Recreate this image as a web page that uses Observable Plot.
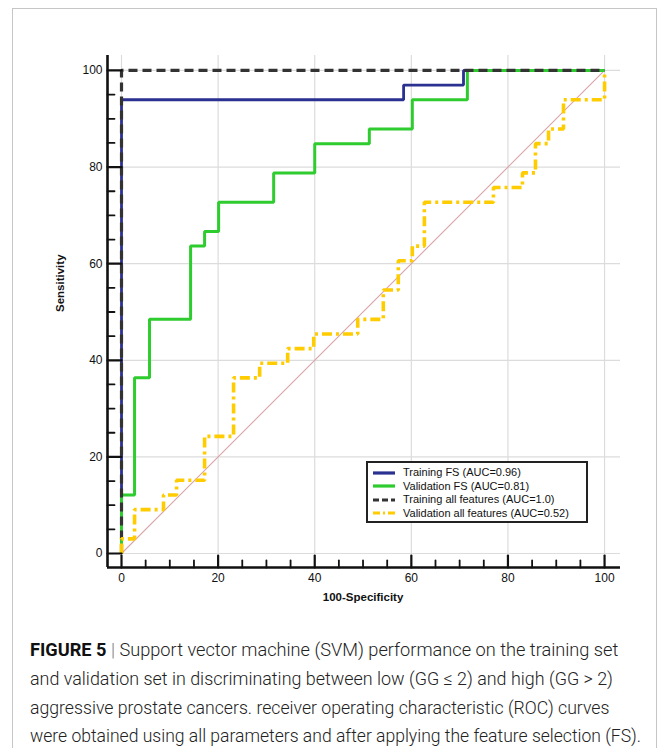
<!DOCTYPE html>
<html><head><meta charset="utf-8">
<script src="https://cdn.jsdelivr.net/npm/d3@7"></script>
<script src="https://cdn.jsdelivr.net/npm/@observablehq/plot@0.6"></script>
<style>
html,body{margin:0;padding:0;background:#fff;}
body{width:664px;height:748px;overflow:hidden;position:relative;font-family:"Liberation Sans",Arial,sans-serif;}
#frame{position:absolute;left:12px;top:8px;width:645px;height:800px;border:1.5px solid #c6c6c6;box-sizing:border-box;}
#chart{position:absolute;left:0;top:0;}
#legend{position:absolute;left:366px;top:461px;width:222px;height:62px;border:2px solid #222;background:#fff;box-sizing:border-box;padding:3px 0 0 5px;font-size:11px;color:#111;}
#legend .row{height:13.5px;line-height:13.5px;display:flex;align-items:center;white-space:nowrap;}
#legend svg{width:22px;height:6px;margin-right:8px;flex:none;}
#caption{position:absolute;left:30px;top:636px;font-family:Roboto,"Liberation Sans",sans-serif;font-weight:300;font-size:18px;line-height:28.8px;color:#222;white-space:nowrap;}
#caption .ln{display:inline-block;white-space:nowrap;transform-origin:0 50%;}
#caption b{font-weight:700;color:#111;}
#caption .sep{color:#777;}
</style>
</head><body>
<div id="frame"></div>
<div id="chart"></div>
<div id="legend"></div>
<div id="caption"></div>
<script>
// ---- data (100-Specificity, Sensitivity) ----
const gridTicks = [0, 20, 40, 60, 80, 100];
const minorTicks = [5, 10, 15, 25, 30, 35, 45, 50, 55, 65, 70, 75, 85, 90, 95];
const diagX = [0, 100];
const diagY = [0, 100];

const trainFsX = [0, 0, 58.4, 70.8, 100];
const trainFsY = [0, 93.94, 96.97, 100, 100];

const validFsX = [0, 0, 2.7, 5.8, 14.3, 17.2, 20.1, 31.5, 40.0, 51.3, 60.2, 71.6, 100];
const validFsY = [0, 12.12, 36.36, 48.48, 63.64, 66.67, 72.73, 78.79, 84.85, 87.88, 93.94, 100, 100];

const trainAllX = [0, 0, 100];
const trainAllY = [0, 100, 100];

const validAllX = [0, 0, 2.7, 8.7, 11.4, 17.2, 23.2, 28.6, 34.4, 39.8, 48.9, 54.2, 57.3, 60.2, 62.7, 77.0, 83.0, 85.7, 88.4, 91.5, 100];
const validAllY = [0, 3.03, 9.09, 12.12, 15.15, 24.24, 36.36, 39.39, 42.42, 45.45, 48.48, 54.55, 60.61, 63.64, 72.73, 75.76, 78.79, 84.85, 87.88, 93.94, 100];

const seriesNames = ["Training FS (AUC=0.96)", "Validation FS (AUC=0.81)", "Training all features (AUC=1.0)", "Validation all features (AUC=0.52)"];
const seriesColors = ["#2b3190", "#2fcc2f", "#333333", "#ffcc00"];
const seriesDash = [null, null, "9,5", "10,4,3,4"];
const seriesWidth = [2.8, 3, 3.2, 3.6];

const xTitle = "100-Specificity";
const yTitle = "Sensitivity";

const toRows = (xs, ys) => xs.map((x, i) => ({x, y: ys[i]}));
const xDomain = [-2.9, 103.3];
const yDomain = [-2.9, 103.1];

function lineMark(xs, ys, k) {
  return Plot.line(toRows(xs, ys), {
    x: "x", y: "y", curve: "step-after",
    stroke: seriesColors[k], strokeWidth: seriesWidth[k],
    strokeDasharray: seriesDash[k], strokeLinejoin: "miter", strokeLinecap: "butt"
  });
}

// plain tick stroke (no arrow head)
const tickShape = {draw(context, l) { context.moveTo(0, 0); context.lineTo(0, -l); }};

const plot = Plot.plot({
  width: 664, height: 617,
  marginLeft: 107, marginRight: 44, marginTop: 55, marginBottom: 50,
  x: {domain: xDomain},
  y: {domain: yDomain},
  style: {fontFamily: "Liberation Sans, Arial, sans-serif", fontSize: "12px", color: "#111", background: "transparent", overflow: "visible"},
  marks: [
    Plot.gridX(gridTicks, {stroke: "#dcdcdc", strokeOpacity: 1, strokeWidth: 1.2}),
    Plot.gridY(gridTicks, {stroke: "#dcdcdc", strokeOpacity: 1, strokeWidth: 1.2}),
    Plot.line(toRows(diagX, diagY), {x: "x", y: "y", stroke: "#d8a4a8", strokeWidth: 1.1}),
    lineMark(trainFsX, trainFsY, 0),
    lineMark(validFsX, validFsY, 1),
    lineMark(trainAllX, trainAllY, 2),
    lineMark(validAllX, validAllY, 3),
    Plot.ruleX([xDomain[0]], {stroke: "#111", strokeWidth: 2.6}),
    Plot.ruleY([yDomain[0]], {stroke: "#111", strokeWidth: 2.6}),
    Plot.vector(minorTicks, {x: d => d, frameAnchor: "bottom", length: 7, anchor: "start", rotate: 0, shape: tickShape, stroke: "#111", strokeWidth: 1.8}),
    Plot.vector(gridTicks, {x: d => d, frameAnchor: "bottom", length: 12, anchor: "start", rotate: 0, shape: tickShape, stroke: "#111", strokeWidth: 2.2}),
    Plot.vector(minorTicks, {y: d => d, frameAnchor: "left", length: 7, anchor: "start", rotate: 90, shape: tickShape, stroke: "#111", strokeWidth: 1.8}),
    Plot.vector(gridTicks, {y: d => d, frameAnchor: "left", length: 14, anchor: "start", rotate: 90, shape: tickShape, stroke: "#111", strokeWidth: 2.2}),
    Plot.axisX({ticks: gridTicks, tickSize: 0, tickPadding: 6, label: null, fontSize: 12}),
    Plot.axisY({ticks: gridTicks, tickSize: 0, tickPadding: 5, label: null, fontSize: 12}),
    Plot.text([xTitle], {x: 50, frameAnchor: "bottom", dy: 33, text: d => d, fontWeight: "bold", fontSize: 11.5, fill: "#111"}),
    Plot.text([yTitle], {y: 50, frameAnchor: "left", dx: -47, rotate: -90, text: d => d, fontWeight: "bold", fontSize: 11.5, fill: "#111"})
  ]
});
document.getElementById("chart").appendChild(plot);

// legend
const legend = document.getElementById("legend");
seriesNames.forEach((name, k) => {
  const row = document.createElement("div");
  row.className = "row";
  const dash = seriesDash[k] ? ` stroke-dasharray="${k === 2 ? '6,3' : '7,3,2,3'}"` : "";
  row.innerHTML = `<svg viewBox="0 0 22 6"><line x1="0" y1="3" x2="22" y2="3" stroke="${seriesColors[k]}" stroke-width="3.2"${dash}/></svg><span>${name}</span>`;
  legend.appendChild(row);
});

// caption (each line fitted to the width it has in the reference)
const captionLines = [
  '<b>FIGURE 5</b> <span class="sep">|</span> Support vector machine (SVM) performance on the training set',
  'and validation set in discriminating between low (GG \u2264 2) and high (GG &gt; 2)',
  'aggressive prostate cancers. receiver operating characteristic (ROC) curves',
  'were obtained using all parameters and after applying the feature selection (FS).'
];
const captionWidths = [588, 583, 579, 611];
const cap = document.getElementById("caption");
cap.innerHTML = captionLines.map(l => `<div><span class="ln">${l}</span></div>`).join("");
cap.querySelectorAll(".ln").forEach((s, i) => {
  const w = s.offsetWidth;
  if (w > 0) s.style.transform = `scaleX(${captionWidths[i] / w})`;
});
</script>
</body></html>
